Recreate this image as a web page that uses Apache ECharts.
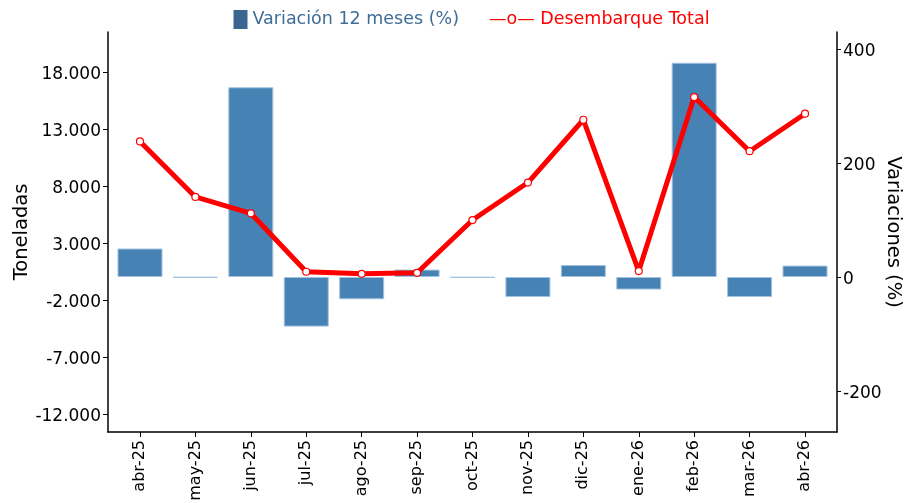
<!DOCTYPE html>
<html>
<head>
<meta charset="utf-8">
<script src="https://cdn.jsdelivr.net/npm/echarts@6/dist/echarts.min.js"></script>
<style>
html,body{margin:0;padding:0;background:#fff;}
#chart{width:905px;height:503px;}
</style>
</head>
<body>
<div id="chart"></div>
<script>
const categories = ['abr-25','may-25','jun-25','jul-25','ago-25','sep-25','oct-25','nov-25','dic-25','ene-26','feb-26','mar-26','abr-26'];
const variacion = [50, -1, 333, -87, -39, 13, -1, -35, 21, -22, 376, -35, 20];
const desembarque = [11900, 7030, 5590, 460, 280, 370, 5000, 8290, 13800, 520, 15790, 11040, 14330];
const leftTicks = [-12000, -7000, -2000, 3000, 8000, 13000, 18000];
const rightTicks = [-200, 0, 200, 400];

const FONT = 'DejaVu Sans';
function fmtThousands(v){
  const s = Math.abs(Math.round(v)).toString().replace(/\B(?=(\d{3})+(?!\d))/g, '.');
  return (v < 0 ? '-' : '') + s;
}
const catIdx = categories.map((c, i) => i);
const barData = categories.map((c, i) => [i, variacion[i]]);
const lineData = categories.map((c, i) => [i, desembarque[i]]);
const labelRich = {
  s: {fontSize: 2, lineHeight: 5, fontFamily: FONT},
  v: {fontSize: 17, lineHeight: 20, color: '#000', fontFamily: FONT}
};

const chart = echarts.init(document.getElementById('chart'), null, {renderer:'canvas'});
chart.setOption({
  animation: false,
  backgroundColor: '#ffffff',
  textStyle: {fontFamily: FONT},
  legend: {
    left: 228.5, top: 5,
    itemWidth: 14, itemHeight: 19, itemGap: 11,
    textStyle: {fontFamily: FONT, fontSize: 17.5},
    formatter: function(name){ return name === 'Desembarque Total' ? '—o— ' + name : name; },
    data: [
      {name: 'Variación 12 meses (%)', icon: 'rect', itemStyle: {color: '#3b6690', borderWidth: 0}, textStyle: {color: '#3f6d98', fontSize: 17.5, fontFamily: FONT}},
      {name: 'Desembarque Total', icon: 'none', textStyle: {color: '#ff0000', fontSize: 17.5, fontFamily: FONT}}
    ]
  },
  grid: {left: 108, right: 68, top: 32, bottom: 71, containLabel: false, outerBoundsMode: 'none'},
  xAxis: {
    type: 'value',
    min: -0.577, max: 12.577,
    axisLine: {show: true, onZero: false, lineStyle: {color: '#000', width: 1.5}},
    axisTick: {show: true, length: 5, lineStyle: {color: '#000', width: 1}, customValues: catIdx},
    axisLabel: {rotate: 90, fontSize: 16, color: '#000', fontFamily: FONT, margin: 8, customValues: catIdx,
      formatter: function(v){ return categories[Math.round(v)]; }},
    splitLine: {show: false}
  },
  yAxis: [
    {
      type: 'value',
      position: 'left',
      min: -13600, max: 21500,
      name: 'Toneladas',
      nameLocation: 'middle',
      nameGap: 76,
      nameMoveOverlap: false,
      nameTextStyle: {fontSize: 19.5, color: '#000', fontFamily: FONT},
      axisLine: {show: true, onZero: false, lineStyle: {color: '#000', width: 1.5}},
      axisTick: {show: true, length: 5, lineStyle: {color: '#000'}, customValues: leftTicks},
      axisLabel: {fontSize: 17, color: '#000', fontFamily: FONT, margin: 7, customValues: leftTicks,
        formatter: function(v){ return '{s| }\n{v|' + fmtThousands(v) + '}'; }, rich: labelRich},
      splitLine: {show: false}
    },
    {
      type: 'value',
      position: 'right',
      min: -272, max: 430,
      name: 'Variaciones (%)',
      nameLocation: 'middle',
      nameRotate: -90,
      nameGap: 46,
      nameMoveOverlap: false,
      nameTextStyle: {fontSize: 19.5, color: '#000', fontFamily: FONT},
      axisLine: {show: true, onZero: false, lineStyle: {color: '#000', width: 1.5}},
      axisTick: {show: true, length: 4, lineStyle: {color: '#000'}, customValues: rightTicks},
      axisLabel: {fontSize: 17, color: '#000', fontFamily: FONT, margin: 6, customValues: rightTicks,
        formatter: function(v){ return '{s| }\n{v|' + v + '}'; }, rich: labelRich},
      splitLine: {show: false}
    }
  ],
  series: [
    {
      name: 'Variación 12 meses (%)',
      type: 'bar',
      yAxisIndex: 1,
      data: barData,
      barWidth: 45,
      itemStyle: {color: '#4682b4', borderColor: '#a3c2e0', borderWidth: 1},
      z: 2
    },
    {
      name: 'Desembarque Total',
      type: 'line',
      yAxisIndex: 0,
      data: lineData,
      lineStyle: {color: '#ff0000', width: 5},
      itemStyle: {color: '#ffffff', borderColor: '#ff0000', borderWidth: 1.2},
      symbol: 'circle',
      symbolSize: 7,
      showSymbol: true,
      z: 5
    }
  ]
});
</script>
</body>
</html>
